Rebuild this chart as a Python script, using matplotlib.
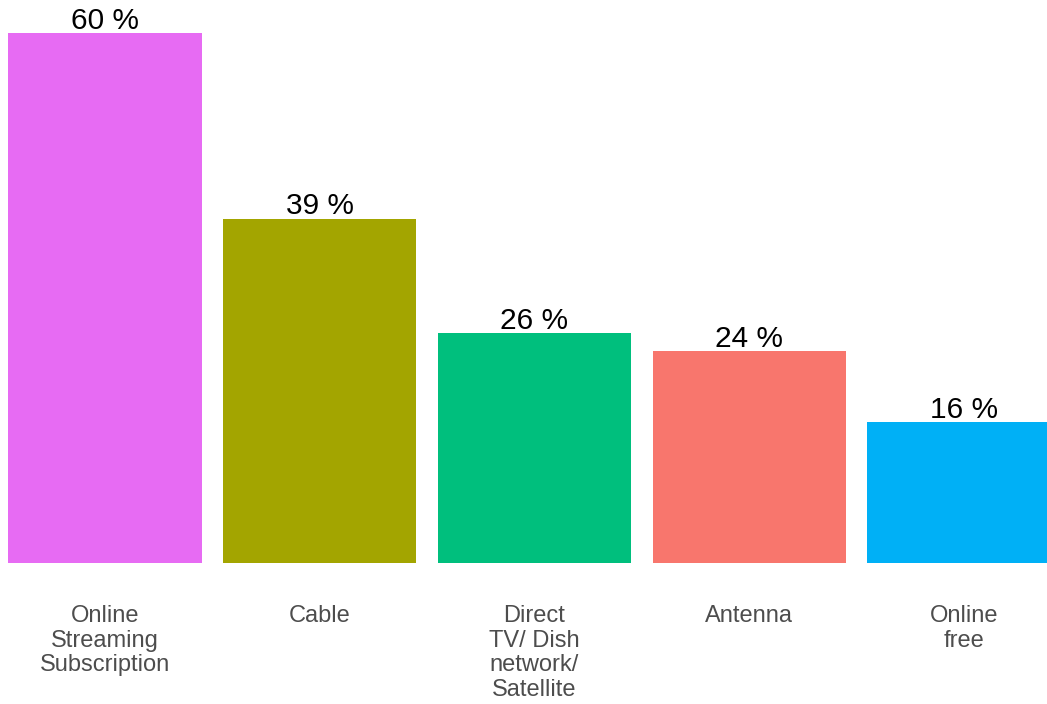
import matplotlib
matplotlib.use("Agg")
import matplotlib.pyplot as plt

categories = ["Online\nStreaming\nSubscription", "Cable", "Direct\nTV/ Dish\nnetwork/\nSatellite", "Antenna", "Online\nfree"]
values = [60, 39, 26, 24, 16]
colors = ["#E76BF3", "#A3A500", "#00BF7D", "#F8766D", "#00B0F6"]

W, H = 1047, 704
fig = plt.figure(figsize=(W / 100, H / 100), dpi=100)
ax = fig.add_axes([0, 0, 1, 1])
ppu = 530 / 60.0
base_px = 563
ax.set_ylim(-(H - base_px) / ppu, base_px / ppu)
ax.set_xlim(-0.489, 4.387)
ax.axis("off")

x = list(range(len(values)))
ax.bar(x, values, width=0.9, color=colors)
for xi, v in zip(x, values):
    ax.text(xi, v + 4 / ppu, f"{v} %", ha="center", va="baseline",
            fontsize=21.5, family="Liberation Sans", color="black")
for xi, c in zip(x, categories):
    ax.text(xi, -(605 - base_px) / ppu, c, ha="center", va="top",
            fontsize=17, family="Liberation Sans", color="#4D4D4D", linespacing=1.15)

fig.savefig("out.png", dpi=100)
